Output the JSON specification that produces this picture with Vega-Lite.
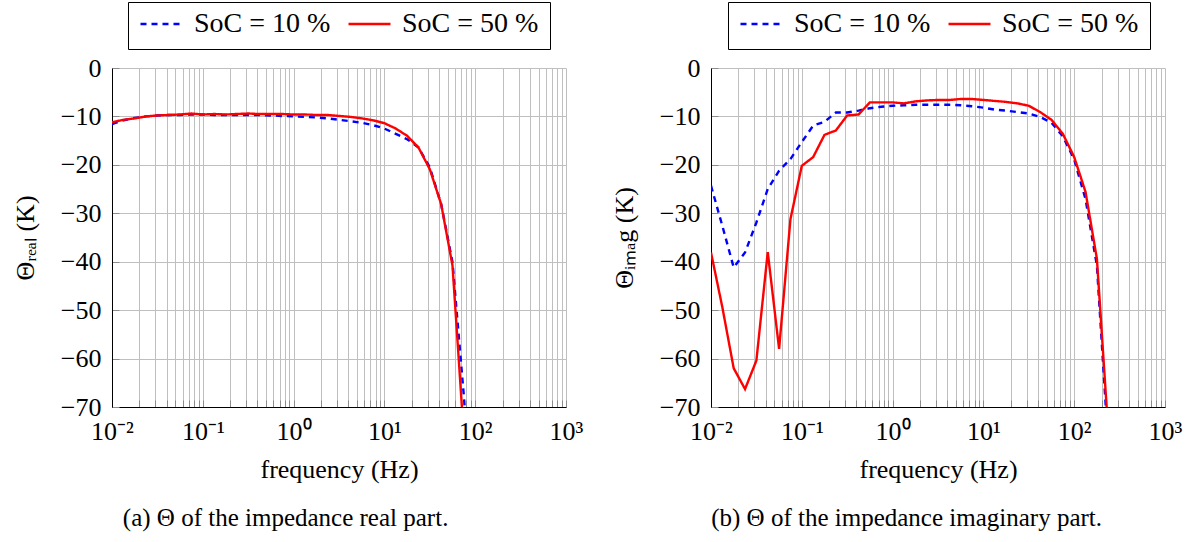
{
  "$schema": "https://vega.github.io/schema/vega-lite/v6.json",
  "background": "white",
  "padding": {"left": 12, "top": 1, "right": 5, "bottom": 5},
  "bounds": "flush",
  "spacing": 145,
  "config": {
    "font": "Liberation Serif",
    "view": {"stroke": null},
    "axis": {
      "grid": true,
      "gridColor": "#bfbfbf",
      "gridWidth": 1,
      "domainColor": "black",
      "domainWidth": 1,
      "tickSize": -7,
      "tickColor": "#8c8c8c",
      "labelPadding": 18,
      "labelFont": "Liberation Serif",
      "labelFontSize": 26,
      "labelColor": "black",
      "labelOverlap": false,
      "labelFlush": false,
      "titleFont": "Liberation Serif",
      "titleFontSize": 26,
      "titleFontWeight": "normal",
      "titleColor": "black"
    },
    "legend": {
      "title": null,
      "direction": "horizontal",
      "strokeColor": "black",
      "fillColor": "white",
      "padding": 11,
      "clipHeight": 22,
      "symbolType": "stroke",
      "symbolSize": 1764,
      "symbolStrokeWidth": 2.4,
      "labelFont": "Liberation Serif",
      "labelFontSize": 28,
      "labelColor": "black",
      "labelOffset": 10,
      "columnPadding": 16
    },
    "title": {
      "font": "Liberation Serif",
      "fontSize": 25,
      "fontWeight": "normal",
      "color": "black"
    }
  },
  "datasets": {
    "theta": [
      {"part": "real", "soc": "SoC = 10 %", "f": 0.01, "theta": -11.6},
      {"part": "real", "soc": "SoC = 10 %", "f": 0.013335, "theta": -10.8},
      {"part": "real", "soc": "SoC = 10 %", "f": 0.017783, "theta": -10.3},
      {"part": "real", "soc": "SoC = 10 %", "f": 0.023714, "theta": -10.0},
      {"part": "real", "soc": "SoC = 10 %", "f": 0.031623, "theta": -9.8},
      {"part": "real", "soc": "SoC = 10 %", "f": 0.04217, "theta": -9.7},
      {"part": "real", "soc": "SoC = 10 %", "f": 0.056234, "theta": -9.7},
      {"part": "real", "soc": "SoC = 10 %", "f": 0.074989, "theta": -9.6},
      {"part": "real", "soc": "SoC = 10 %", "f": 0.1, "theta": -9.6},
      {"part": "real", "soc": "SoC = 10 %", "f": 0.13335, "theta": -9.7},
      {"part": "real", "soc": "SoC = 10 %", "f": 0.17783, "theta": -9.7},
      {"part": "real", "soc": "SoC = 10 %", "f": 0.23714, "theta": -9.7},
      {"part": "real", "soc": "SoC = 10 %", "f": 0.31623, "theta": -9.7},
      {"part": "real", "soc": "SoC = 10 %", "f": 0.4217, "theta": -9.7},
      {"part": "real", "soc": "SoC = 10 %", "f": 0.56234, "theta": -9.8},
      {"part": "real", "soc": "SoC = 10 %", "f": 0.74989, "theta": -9.9},
      {"part": "real", "soc": "SoC = 10 %", "f": 1, "theta": -10.0},
      {"part": "real", "soc": "SoC = 10 %", "f": 1.3335, "theta": -10.1},
      {"part": "real", "soc": "SoC = 10 %", "f": 1.7783, "theta": -10.2},
      {"part": "real", "soc": "SoC = 10 %", "f": 2.3714, "theta": -10.4},
      {"part": "real", "soc": "SoC = 10 %", "f": 3.1623, "theta": -10.7},
      {"part": "real", "soc": "SoC = 10 %", "f": 4.217, "theta": -11.0},
      {"part": "real", "soc": "SoC = 10 %", "f": 5.6234, "theta": -11.3},
      {"part": "real", "soc": "SoC = 10 %", "f": 7.4989, "theta": -11.8},
      {"part": "real", "soc": "SoC = 10 %", "f": 10, "theta": -12.5},
      {"part": "real", "soc": "SoC = 10 %", "f": 13.335, "theta": -13.6},
      {"part": "real", "soc": "SoC = 10 %", "f": 17.783, "theta": -14.7},
      {"part": "real", "soc": "SoC = 10 %", "f": 23.714, "theta": -16.4},
      {"part": "real", "soc": "SoC = 10 %", "f": 31.623, "theta": -20.5},
      {"part": "real", "soc": "SoC = 10 %", "f": 42.17, "theta": -28.1},
      {"part": "real", "soc": "SoC = 10 %", "f": 56.234, "theta": -40.1},
      {"part": "real", "soc": "SoC = 10 %", "f": 74.989, "theta": -67.7},
      {"part": "real", "soc": "SoC = 10 %", "f": 100, "theta": -100},
      {"part": "real", "soc": "SoC = 50 %", "f": 0.01, "theta": -11.2},
      {"part": "real", "soc": "SoC = 50 %", "f": 0.013335, "theta": -10.7},
      {"part": "real", "soc": "SoC = 50 %", "f": 0.017783, "theta": -10.4},
      {"part": "real", "soc": "SoC = 50 %", "f": 0.023714, "theta": -10.0},
      {"part": "real", "soc": "SoC = 50 %", "f": 0.031623, "theta": -9.8},
      {"part": "real", "soc": "SoC = 50 %", "f": 0.04217, "theta": -9.7},
      {"part": "real", "soc": "SoC = 50 %", "f": 0.056234, "theta": -9.6},
      {"part": "real", "soc": "SoC = 50 %", "f": 0.074989, "theta": -9.4},
      {"part": "real", "soc": "SoC = 50 %", "f": 0.1, "theta": -9.6},
      {"part": "real", "soc": "SoC = 50 %", "f": 0.13335, "theta": -9.5},
      {"part": "real", "soc": "SoC = 50 %", "f": 0.17783, "theta": -9.6},
      {"part": "real", "soc": "SoC = 50 %", "f": 0.23714, "theta": -9.5},
      {"part": "real", "soc": "SoC = 50 %", "f": 0.31623, "theta": -9.4},
      {"part": "real", "soc": "SoC = 50 %", "f": 0.4217, "theta": -9.5},
      {"part": "real", "soc": "SoC = 50 %", "f": 0.56234, "theta": -9.5},
      {"part": "real", "soc": "SoC = 50 %", "f": 0.74989, "theta": -9.5},
      {"part": "real", "soc": "SoC = 50 %", "f": 1, "theta": -9.6},
      {"part": "real", "soc": "SoC = 50 %", "f": 1.3335, "theta": -9.6},
      {"part": "real", "soc": "SoC = 50 %", "f": 1.7783, "theta": -9.7},
      {"part": "real", "soc": "SoC = 50 %", "f": 2.3714, "theta": -9.7},
      {"part": "real", "soc": "SoC = 50 %", "f": 3.1623, "theta": -9.9},
      {"part": "real", "soc": "SoC = 50 %", "f": 4.217, "theta": -10.1},
      {"part": "real", "soc": "SoC = 50 %", "f": 5.6234, "theta": -10.4},
      {"part": "real", "soc": "SoC = 50 %", "f": 7.4989, "theta": -10.8},
      {"part": "real", "soc": "SoC = 50 %", "f": 10, "theta": -11.4},
      {"part": "real", "soc": "SoC = 50 %", "f": 13.335, "theta": -12.5},
      {"part": "real", "soc": "SoC = 50 %", "f": 17.783, "theta": -14.0},
      {"part": "real", "soc": "SoC = 50 %", "f": 23.714, "theta": -16.4},
      {"part": "real", "soc": "SoC = 50 %", "f": 31.623, "theta": -20.9},
      {"part": "real", "soc": "SoC = 50 %", "f": 42.17, "theta": -28.1},
      {"part": "real", "soc": "SoC = 50 %", "f": 56.234, "theta": -40.8},
      {"part": "real", "soc": "SoC = 50 %", "f": 74.989, "theta": -76},
      {"part": "imag", "soc": "SoC = 10 %", "f": 0.01, "theta": -24.3},
      {"part": "imag", "soc": "SoC = 10 %", "f": 0.013335, "theta": -32.6},
      {"part": "imag", "soc": "SoC = 10 %", "f": 0.017783, "theta": -41.2},
      {"part": "imag", "soc": "SoC = 10 %", "f": 0.023714, "theta": -38.1},
      {"part": "imag", "soc": "SoC = 10 %", "f": 0.031623, "theta": -31.9},
      {"part": "imag", "soc": "SoC = 10 %", "f": 0.04217, "theta": -25.0},
      {"part": "imag", "soc": "SoC = 10 %", "f": 0.056234, "theta": -21.2},
      {"part": "imag", "soc": "SoC = 10 %", "f": 0.074989, "theta": -18.8},
      {"part": "imag", "soc": "SoC = 10 %", "f": 0.1, "theta": -15.3},
      {"part": "imag", "soc": "SoC = 10 %", "f": 0.13335, "theta": -11.9},
      {"part": "imag", "soc": "SoC = 10 %", "f": 0.17783, "theta": -11.1},
      {"part": "imag", "soc": "SoC = 10 %", "f": 0.23714, "theta": -9.2},
      {"part": "imag", "soc": "SoC = 10 %", "f": 0.31623, "theta": -9.2},
      {"part": "imag", "soc": "SoC = 10 %", "f": 0.4217, "theta": -8.8},
      {"part": "imag", "soc": "SoC = 10 %", "f": 0.56234, "theta": -8.3},
      {"part": "imag", "soc": "SoC = 10 %", "f": 0.74989, "theta": -8.0},
      {"part": "imag", "soc": "SoC = 10 %", "f": 1, "theta": -7.8},
      {"part": "imag", "soc": "SoC = 10 %", "f": 1.3335, "theta": -7.7},
      {"part": "imag", "soc": "SoC = 10 %", "f": 1.7783, "theta": -7.6},
      {"part": "imag", "soc": "SoC = 10 %", "f": 2.3714, "theta": -7.6},
      {"part": "imag", "soc": "SoC = 10 %", "f": 3.1623, "theta": -7.6},
      {"part": "imag", "soc": "SoC = 10 %", "f": 4.217, "theta": -7.6},
      {"part": "imag", "soc": "SoC = 10 %", "f": 5.6234, "theta": -7.7},
      {"part": "imag", "soc": "SoC = 10 %", "f": 7.4989, "theta": -7.9},
      {"part": "imag", "soc": "SoC = 10 %", "f": 10, "theta": -8.2},
      {"part": "imag", "soc": "SoC = 10 %", "f": 13.335, "theta": -8.6},
      {"part": "imag", "soc": "SoC = 10 %", "f": 17.783, "theta": -8.8},
      {"part": "imag", "soc": "SoC = 10 %", "f": 23.714, "theta": -9.1},
      {"part": "imag", "soc": "SoC = 10 %", "f": 31.623, "theta": -9.4},
      {"part": "imag", "soc": "SoC = 10 %", "f": 42.17, "theta": -10.1},
      {"part": "imag", "soc": "SoC = 10 %", "f": 56.234, "theta": -11.3},
      {"part": "imag", "soc": "SoC = 10 %", "f": 74.989, "theta": -14.1},
      {"part": "imag", "soc": "SoC = 10 %", "f": 100, "theta": -18.9},
      {"part": "imag", "soc": "SoC = 10 %", "f": 133.35, "theta": -27.1},
      {"part": "imag", "soc": "SoC = 10 %", "f": 177.83, "theta": -40.8},
      {"part": "imag", "soc": "SoC = 10 %", "f": 237.14, "theta": -78},
      {"part": "imag", "soc": "SoC = 50 %", "f": 0.01, "theta": -38.1},
      {"part": "imag", "soc": "SoC = 50 %", "f": 0.013335, "theta": -49.4},
      {"part": "imag", "soc": "SoC = 50 %", "f": 0.017783, "theta": -62.0},
      {"part": "imag", "soc": "SoC = 50 %", "f": 0.023714, "theta": -66.3},
      {"part": "imag", "soc": "SoC = 50 %", "f": 0.031623, "theta": -60.4},
      {"part": "imag", "soc": "SoC = 50 %", "f": 0.04217, "theta": -38.0},
      {"part": "imag", "soc": "SoC = 50 %", "f": 0.056234, "theta": -58.0},
      {"part": "imag", "soc": "SoC = 50 %", "f": 0.074989, "theta": -31.2},
      {"part": "imag", "soc": "SoC = 50 %", "f": 0.1, "theta": -20.2},
      {"part": "imag", "soc": "SoC = 50 %", "f": 0.13335, "theta": -18.4},
      {"part": "imag", "soc": "SoC = 50 %", "f": 0.17783, "theta": -13.8},
      {"part": "imag", "soc": "SoC = 50 %", "f": 0.23714, "theta": -12.9},
      {"part": "imag", "soc": "SoC = 50 %", "f": 0.31623, "theta": -9.8},
      {"part": "imag", "soc": "SoC = 50 %", "f": 0.4217, "theta": -9.6},
      {"part": "imag", "soc": "SoC = 50 %", "f": 0.56234, "theta": -7.1},
      {"part": "imag", "soc": "SoC = 50 %", "f": 0.74989, "theta": -7.1},
      {"part": "imag", "soc": "SoC = 50 %", "f": 1, "theta": -7.1},
      {"part": "imag", "soc": "SoC = 50 %", "f": 1.3335, "theta": -7.3},
      {"part": "imag", "soc": "SoC = 50 %", "f": 1.7783, "theta": -6.9},
      {"part": "imag", "soc": "SoC = 50 %", "f": 2.3714, "theta": -6.7},
      {"part": "imag", "soc": "SoC = 50 %", "f": 3.1623, "theta": -6.6},
      {"part": "imag", "soc": "SoC = 50 %", "f": 4.217, "theta": -6.6},
      {"part": "imag", "soc": "SoC = 50 %", "f": 5.6234, "theta": -6.4},
      {"part": "imag", "soc": "SoC = 50 %", "f": 7.4989, "theta": -6.4},
      {"part": "imag", "soc": "SoC = 50 %", "f": 10, "theta": -6.6},
      {"part": "imag", "soc": "SoC = 50 %", "f": 13.335, "theta": -6.8},
      {"part": "imag", "soc": "SoC = 50 %", "f": 17.783, "theta": -7.0},
      {"part": "imag", "soc": "SoC = 50 %", "f": 23.714, "theta": -7.3},
      {"part": "imag", "soc": "SoC = 50 %", "f": 31.623, "theta": -7.8},
      {"part": "imag", "soc": "SoC = 50 %", "f": 42.17, "theta": -9.1},
      {"part": "imag", "soc": "SoC = 50 %", "f": 56.234, "theta": -10.7},
      {"part": "imag", "soc": "SoC = 50 %", "f": 74.989, "theta": -13.6},
      {"part": "imag", "soc": "SoC = 50 %", "f": 100, "theta": -18.4},
      {"part": "imag", "soc": "SoC = 50 %", "f": 133.35, "theta": -25.6},
      {"part": "imag", "soc": "SoC = 50 %", "f": 177.83, "theta": -39.4},
      {"part": "imag", "soc": "SoC = 50 %", "f": 237.14, "theta": -75}
    ]
  },
  "hconcat": [
    {
      "width": 454,
      "height": 339,
      "data": {"name": "theta"},
      "transform": [{"filter": "datum.part == 'real'"}],
      "title": {"text": "(a) Θ of the impedance real part.", "orient": "bottom", "anchor": "middle", "frame": "bounds", "offset": 24, "dx": -12, "font": "Liberation Serif", "fontSize": 25, "fontWeight": "normal"},
      "mark": {"type": "line", "clip": true, "strokeWidth": 2.4},
      "encoding": {
        "x": {
          "field": "f", "type": "quantitative",
          "scale": {"type": "log", "domain": [0.01, 1000], "nice": false},
          "axis": {
            "title": "frequency (Hz)",
            "titlePadding": 12,
            "labelFont": "Liberation Serif",
            "titleFont": "Liberation Serif",
            "values": [0.01, 0.02, 0.03, 0.04, 0.05, 0.06, 0.07, 0.08, 0.09, 0.1, 0.2, 0.3, 0.4, 0.5, 0.6, 0.7, 0.8, 0.9, 1, 2, 3, 4, 5, 6, 7, 8, 9, 10, 20, 30, 40, 50, 60, 70, 80, 90, 100, 200, 300, 400, 500, 600, 700, 800, 900, 1000],
            "labelExpr": "datum.value == 0.01 ? '10⁻²' : datum.value == 0.1 ? '10⁻¹' : datum.value == 1 ? '10⁰' : datum.value == 10 ? '10¹' : datum.value == 100 ? '10²' : datum.value == 1000 ? '10³' : ''"
          }
        },
        "y": {
          "field": "theta", "type": "quantitative",
          "scale": {"domain": [-70, 0], "nice": false},
          "axis": {"title": "Θᵣₑₐₗ (K)", "titlePadding": 22, "labelFont": "Liberation Serif", "titleFont": "Liberation Serif", "values": [-70, -60, -50, -40, -30, -20, -10, 0]}
        },
        "color": {
          "field": "soc", "type": "nominal",
          "scale": {"domain": ["SoC = 10 %", "SoC = 50 %"], "range": ["#0000ff", "#ff0000"]},
          "legend": {"orient": "none", "legendX": 16, "legendY": -66, "labelFont": "Liberation Serif"}
        },
        "strokeDash": {
          "field": "soc", "type": "nominal",
          "scale": {"domain": ["SoC = 10 %", "SoC = 50 %"], "range": [[6, 5], [1, 0]]},
          "legend": {"orient": "none", "legendX": 16, "legendY": -66, "labelFont": "Liberation Serif"}
        }
      }
    },
    {
      "width": 454,
      "height": 339,
      "data": {"name": "theta"},
      "transform": [{"filter": "datum.part == 'imag'"}],
      "title": {"text": "(b) Θ of the impedance imaginary part.", "orient": "bottom", "anchor": "middle", "frame": "bounds", "offset": 24, "dx": 10, "font": "Liberation Serif", "fontSize": 25, "fontWeight": "normal"},
      "mark": {"type": "line", "clip": true, "strokeWidth": 2.4},
      "encoding": {
        "x": {
          "field": "f", "type": "quantitative",
          "scale": {"type": "log", "domain": [0.01, 1000], "nice": false},
          "axis": {
            "title": "frequency (Hz)",
            "titlePadding": 12,
            "labelFont": "Liberation Serif",
            "titleFont": "Liberation Serif",
            "values": [0.01, 0.02, 0.03, 0.04, 0.05, 0.06, 0.07, 0.08, 0.09, 0.1, 0.2, 0.3, 0.4, 0.5, 0.6, 0.7, 0.8, 0.9, 1, 2, 3, 4, 5, 6, 7, 8, 9, 10, 20, 30, 40, 50, 60, 70, 80, 90, 100, 200, 300, 400, 500, 600, 700, 800, 900, 1000],
            "labelExpr": "datum.value == 0.01 ? '10⁻²' : datum.value == 0.1 ? '10⁻¹' : datum.value == 1 ? '10⁰' : datum.value == 10 ? '10¹' : datum.value == 100 ? '10²' : datum.value == 1000 ? '10³' : ''"
          }
        },
        "y": {
          "field": "theta", "type": "quantitative",
          "scale": {"domain": [-70, 0], "nice": false},
          "axis": {"title": "Θᵢₘₐg (K)", "titlePadding": 22, "labelFont": "Liberation Serif", "titleFont": "Liberation Serif", "values": [-70, -60, -50, -40, -30, -20, -10, 0]}
        },
        "color": {
          "field": "soc", "type": "nominal",
          "scale": {"domain": ["SoC = 10 %", "SoC = 50 %"], "range": ["#0000ff", "#ff0000"]},
          "legend": {"orient": "none", "legendX": 17, "legendY": -66, "labelFont": "Liberation Serif"}
        },
        "strokeDash": {
          "field": "soc", "type": "nominal",
          "scale": {"domain": ["SoC = 10 %", "SoC = 50 %"], "range": [[6, 5], [1, 0]]},
          "legend": {"orient": "none", "legendX": 17, "legendY": -66, "labelFont": "Liberation Serif"}
        }
      }
    }
  ],
  "resolve": {
    "scale": {"color": "independent", "strokeDash": "independent"},
    "legend": {"color": "independent", "strokeDash": "independent"}
  }
}
